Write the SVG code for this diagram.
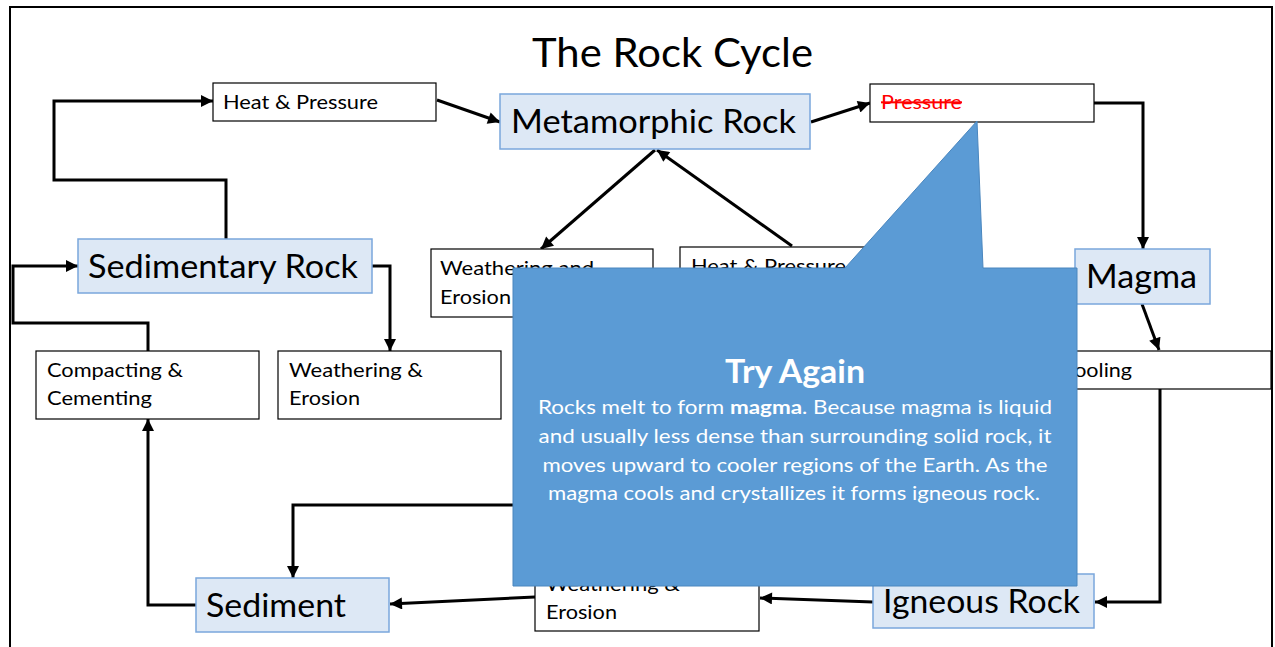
<svg xmlns="http://www.w3.org/2000/svg" width="1275" height="647" viewBox="0 0 1275 647">
<defs>
<marker id="ah" viewBox="0 0 10 10" refX="10" refY="5" markerWidth="14" markerHeight="12" markerUnits="userSpaceOnUse" orient="auto">
<path d="M0,0 L10,5 L0,10 z" fill="#000"/>
</marker>
<style>
.bg{fill:#fff}
.frame{fill:none;stroke:#000;stroke-width:2}
.wbox{fill:#fff;stroke:#000;stroke-width:1.2}
.bbox{fill:#dde8f5;stroke:#7aa7dc;stroke-width:1.5}
.t{font-family:Lato,"Open Sans","Liberation Sans",sans-serif;fill:#000}
.s{font-size:20px}
.b{font-size:32px}
.conn path{fill:none;stroke:#000;stroke-width:3;marker-end:url(#ah)}
.conn path.nm{marker-end:none}
.callout{fill:#5b9bd5;stroke:#4a86be;stroke-width:1}
.ct{font-family:Lato,"Open Sans","Liberation Sans",sans-serif;fill:#fff;text-anchor:middle}
</style>
</defs>
<rect class="bg" x="0" y="0" width="1275" height="647"/>
<rect class="frame" x="10" y="7" width="1262" height="700"/>
<text class="t" x="532" y="67" font-size="40" textLength="281" lengthAdjust="spacingAndGlyphs">The Rock Cycle</text>

<g id="connectors" class="conn">
<path d="M226,239 V180 H54 V101 H213"/>
<path d="M437,100 L500,122"/>
<path d="M811,122 L870,103"/>
<path d="M1094,103 H1143 V249"/>
<path d="M1142,304 L1159,350"/>
<path d="M1160,389 V602 H1095"/>
<path d="M873,602 L760,598"/>
<path d="M535,597 L390,604"/>
<path d="M196,605 H148 V419"/>
<path d="M148,351 V323 H13 V266 H78"/>
<path d="M372,266 H390 V351"/>
<path d="M655,150 L541,249"/>
<path d="M792,246 L657,150"/>
<path d="M541,317 V505 H293 V578"/>
</g>

<g id="heat-pressure-top">
<rect class="wbox" x="213" y="83" width="223" height="38"/>
<text class="t s" x="223" y="109" textLength="155" lengthAdjust="spacingAndGlyphs">Heat &amp; Pressure</text>
</g>
<g id="metamorphic-rock">
<rect class="bbox" x="500" y="94" width="310" height="55"/>
<text class="t b" x="511" y="133" textLength="285" lengthAdjust="spacingAndGlyphs">Metamorphic Rock</text>
</g>
<g id="pressure">
<rect class="wbox" x="870" y="84" width="224" height="38"/>
<text class="t s" x="881" y="109" fill="#ff0000" style="fill:#ff0000" text-decoration="line-through" textLength="81" lengthAdjust="spacingAndGlyphs">Pressure</text>
</g>
<g id="magma">
<rect class="bbox" x="1075" y="249" width="135" height="55"/>
<text class="t b" x="1086" y="288" textLength="111" lengthAdjust="spacingAndGlyphs">Magma</text>
</g>
<g id="cooling">
<rect class="wbox" x="1048" y="351" width="223" height="38"/>
<text class="t s" x="1060" y="377" textLength="72" lengthAdjust="spacingAndGlyphs">Cooling</text>
</g>
<g id="igneous-rock">
<rect class="bbox" x="873" y="574" width="221" height="54"/>
<text class="t b" x="883" y="613" textLength="197" lengthAdjust="spacingAndGlyphs">Igneous Rock</text>
</g>
<g id="weathering-erosion-bottom">
<rect class="wbox" x="535" y="563" width="224" height="68"/>
<text class="t s" x="546" y="591" textLength="134" lengthAdjust="spacingAndGlyphs">Weathering &amp;</text>
<text class="t s" x="546" y="619" textLength="71" lengthAdjust="spacingAndGlyphs">Erosion</text>
</g>
<g id="sediment">
<rect class="bbox" x="196" y="578" width="193" height="54"/>
<text class="t b" x="206" y="617" textLength="140" lengthAdjust="spacingAndGlyphs">Sediment</text>
</g>
<g id="compacting-cementing">
<rect class="wbox" x="36" y="351" width="223" height="68"/>
<text class="t s" x="47" y="377" textLength="136" lengthAdjust="spacingAndGlyphs">Compacting &amp;</text>
<text class="t s" x="47" y="405" textLength="105" lengthAdjust="spacingAndGlyphs">Cementing</text>
</g>
<g id="weathering-erosion-mid">
<rect class="wbox" x="278" y="351" width="223" height="68"/>
<text class="t s" x="289" y="377" textLength="134" lengthAdjust="spacingAndGlyphs">Weathering &amp;</text>
<text class="t s" x="289" y="405" textLength="71" lengthAdjust="spacingAndGlyphs">Erosion</text>
</g>
<g id="sedimentary-rock">
<rect class="bbox" x="78" y="239" width="294" height="54"/>
<text class="t b" x="88" y="278" textLength="270" lengthAdjust="spacingAndGlyphs">Sedimentary Rock</text>
</g>
<g id="weathering-erosion-upper">
<rect class="wbox" x="431" y="249" width="222" height="68"/>
<text class="t s" x="440" y="275" textLength="154" lengthAdjust="spacingAndGlyphs">Weathering and</text>
<text class="t s" x="440" y="304" textLength="71" lengthAdjust="spacingAndGlyphs">Erosion</text>
</g>
<g id="heat-pressure-mid">
<rect class="wbox" x="680" y="247" width="223" height="68"/>
<text class="t s" x="691" y="273" textLength="155" lengthAdjust="spacingAndGlyphs">Heat &amp; Pressure</text>
</g>

<g id="callout">
<path class="callout" d="M513,268 L845,268 L977,121 L983,268 L1077,268 L1077,586 L513,586 Z"/>
<text class="ct" x="795" y="383" font-size="33" font-weight="bold" textLength="140" lengthAdjust="spacingAndGlyphs">Try Again</text>
<text class="ct" x="795" y="414" font-size="19" textLength="514" lengthAdjust="spacingAndGlyphs">Rocks melt to form <tspan font-weight="bold">magma</tspan>. Because magma is liquid</text>
<text class="ct" x="795" y="443" font-size="19" textLength="513" lengthAdjust="spacingAndGlyphs">and usually less dense than surrounding solid rock, it</text>
<text class="ct" x="795" y="472" font-size="19" textLength="505" lengthAdjust="spacingAndGlyphs">moves upward to cooler regions of the Earth. As the</text>
<text class="ct" x="794" y="500" font-size="19" textLength="492" lengthAdjust="spacingAndGlyphs">magma cools and crystallizes it forms igneous rock.</text>
</g>
</svg>
